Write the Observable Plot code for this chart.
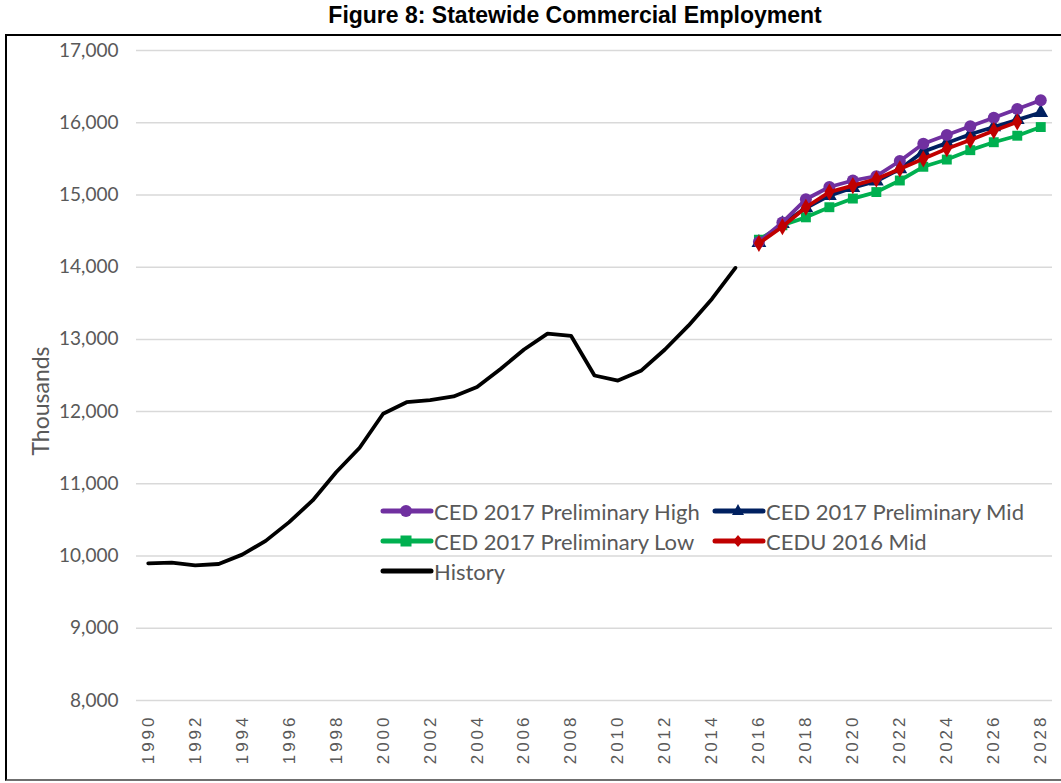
<!DOCTYPE html>
<html>
<head>
<meta charset="utf-8">
<script src="https://cdn.jsdelivr.net/npm/d3@7"></script>
<script src="https://cdn.jsdelivr.net/npm/@observablehq/plot@0.6"></script>
<style>
  html, body { margin: 0; padding: 0; background: #fff; overflow: hidden; }
  #wrap { position: relative; width: 1061px; height: 783px; overflow: hidden; background: #fff; }
  #title { position: absolute; left: 50px; width: 1050px; top: 2px; text-align: center;
           font: bold 23px "Liberation Sans", Arial, sans-serif; color: #000; }
  #frame { position: absolute; left: 5px; top: 34px; width: 1056px; height: 747px;
           border-left: 2px solid #000; border-top: 2px solid #000; border-bottom: 2px solid #6f6f6f;
           border-right: none; box-sizing: border-box; }
  #chart { position: absolute; left: 0; top: 33px; width: 1061px; height: 750px; overflow: hidden; }
  #ylabel { position: absolute; left: 40px; top: 401px; transform: translate(-50%, -50%) rotate(-90deg);
            font: 23px Lato, sans-serif; color: #595959; white-space: nowrap; }
  #legend { position: absolute; left: 380px; top: 496px; font: 22px Lato, sans-serif; color: #595959; }
  .row { display: flex; height: 30px; align-items: center; }
  .item { display: flex; align-items: center; }
  .item svg { flex: none; }
  .c1 { width: 332px; }
  g[aria-label="x-axis tick label"] text { letter-spacing: 3px; }
</style>
</head>
<body>
<div id="wrap">
  <div id="frame"></div>
  <div id="title">Figure 8: Statewide Commercial Employment</div>
  <div id="chart"></div>
  <div id="ylabel">Thousands</div>
  <div id="legend"></div>
</div>
<script>
// ---- data ----
const historyYears = d3.range(1990, 2016);
const historyValues = [9900, 9910, 9870, 9890, 10020, 10210, 10470, 10770, 11160, 11500,
  11970, 12130, 12160, 12210, 12340, 12590, 12860, 13080, 13050, 12500,
  12430, 12570, 12860, 13190, 13560, 13990];

const forecastYears = d3.range(2016, 2029);
const highValues = [14350, 14620, 14940, 15110, 15200, 15260, 15470, 15710, 15830, 15950, 16070, 16190, 16310];
const midValues  = [14340, 14600, 14820, 14990, 15100, 15190, 15360, 15600, 15720, 15840, 15940, 16040, 16140];
const lowValues  = [14380, 14580, 14690, 14830, 14950, 15040, 15200, 15390, 15490, 15620, 15730, 15820, 15940];
const ceduYears  = d3.range(2016, 2028);
const ceduValues = [14330, 14560, 14830, 15040, 15130, 15220, 15360, 15500, 15640, 15760, 15890, 16010];

const yTicks = d3.range(8000, 17001, 1000);
const xTicks = d3.range(1990, 2029, 2);

const seriesNames = ["CED 2017 Preliminary High", "CED 2017 Preliminary Mid", "CED 2017 Preliminary Low", "CEDU 2016 Mid", "History"];
const seriesColors = ["#7030A0", "#002060", "#00B050", "#C00000", "#000000"];
const seriesSymbols = ["circle", "triangle", "square", "diamond", null];

// ---- build tables ----
const toRows = (years, vals) => years.map((y, i) => ({year: y, value: vals[i]}));
const hist = toRows(historyYears, historyValues);
const high = toRows(forecastYears, highValues);
const mid = toRows(forecastYears, midValues);
const low = toRows(forecastYears, lowValues);
const cedu = toRows(ceduYears, ceduValues);

const lineW = 3.8;
const series = [
  {data: mid, i: 1, r: 5.5},
  {data: low, i: 2, r: 5.6},
  {data: high, i: 0, r: 6},
  {data: cedu, i: 3, r: 5.2}
];

const marks = [
  Plot.gridY(yTicks, {stroke: "#d9d9d9", strokeOpacity: 1, strokeWidth: 1.5}),
  Plot.axisY({ticks: yTicks, tickFormat: d3.format(","), tickSize: 0, tickPadding: 18,
    fontSize: 19, fill: "#595959", fontFamily: "Lato", label: null}),
  Plot.axisX({ticks: xTicks, tickFormat: d => String(d), tickRotate: -90, tickSize: 0, tickPadding: 14,
    fontSize: 17, fill: "#595959", fontFamily: "Liberation Sans", label: null}),
  Plot.line(hist, {x: "year", y: "value", stroke: seriesColors[4], strokeWidth: lineW, strokeLinejoin: "round"})
];
for (const s of series) {
  marks.push(Plot.line(s.data, {x: "year", y: "value", stroke: seriesColors[s.i], strokeWidth: lineW}));
  marks.push(Plot.dot(s.data, {x: "year", y: "value", symbol: () => seriesSymbols[s.i],
    fill: seriesColors[s.i], stroke: "none", r: s.r}));
}

const chart = Plot.plot({
  width: 1061,
  height: 750,
  marginTop: 17,
  marginBottom: 83,
  marginLeft: 136,
  marginRight: 9,
  style: {background: "transparent", overflow: "visible"},
  x: {type: "linear", domain: [1989.5, 2028.5]},
  y: {domain: [8000, 17000]},
  symbol: {type: "identity"},
  marks
});
document.getElementById("chart").appendChild(chart);

// ---- legend ----
function icon(i) {
  const c = seriesColors[i];
  const sym = seriesSymbols[i];
  let m = "";
  if (sym === "circle") m = `<circle cx="26" cy="8" r="6" fill="${c}"/>`;
  if (sym === "triangle") m = `<path d="M26,1 L32,12 L20,12 Z" fill="${c}"/>`;
  if (sym === "square") m = `<rect x="20.5" y="2.5" width="11" height="11" fill="${c}"/>`;
  if (sym === "diamond") m = `<path d="M26,2 L31,8 L26,14 L21,8 Z" fill="${c}"/>`;
  return `<svg width="54" height="16"><line x1="3" x2="51" y1="8" y2="8" stroke="${c}" stroke-width="5" stroke-linecap="round"/>${m}</svg>`;
}
const item = (i, cls) => `<div class="item ${cls || ""}">${icon(i)}<span>${seriesNames[i]}</span></div>`;
document.getElementById("legend").innerHTML =
  `<div class="row">${item(0, "c1")}${item(1)}</div>` +
  `<div class="row">${item(2, "c1")}${item(3)}</div>` +
  `<div class="row">${item(4, "c1")}</div>`;
</script>
</body>
</html>
